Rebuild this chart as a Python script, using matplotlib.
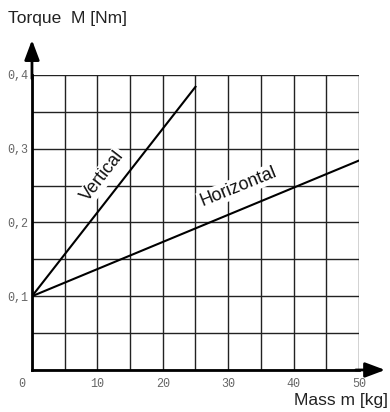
import numpy as np
import matplotlib.pyplot as plt
from matplotlib.transforms import ScaledTranslation

# Torque vs. mass for the two mounting orientations
mass_vertical = [0, 25]
torque_vertical = [0.1, 0.384]
mass_horizontal = [0, 50]
torque_horizontal = [0.1, 0.284]

x_ticks = np.arange(0, 51, 5)
x_labels = ['0', '', '10', '', '20', '', '30', '', '40', '', '50']
y_ticks = np.arange(0, 0.41, 0.05)
y_labels = ['', '', '0,1', '', '0,2', '', '0,3', '', '0,4']

fig = plt.figure(figsize=(3.9, 4.12), dpi=100)
ax = fig.add_axes([0.082, 0.102, 0.8385, 0.716])

# Lines
ax.plot(mass_vertical, torque_vertical, color='black', lw=1.5)
ax.plot(mass_horizontal, torque_horizontal, color='black', lw=1.5)

ax.set_xlim(0, 50)
ax.set_ylim(0, 0.4)
ax.set_xticks(x_ticks)
ax.set_xticklabels(x_labels)
ax.set_yticks(y_ticks)
ax.set_yticklabels(y_labels)
ax.tick_params(length=0, labelsize=8.5, labelcolor='#666666')
ax.tick_params(axis='x', pad=6)
ax.tick_params(axis='y', pad=3)
for lbl in ax.get_xticklabels() + ax.get_yticklabels():
    lbl.set_family('Liberation Mono')
# origin label sits a little left of the axis
lbl0 = ax.get_xticklabels()[0]
lbl0.set_transform(lbl0.get_transform() + ScaledTranslation(-0.1, 0, fig.dpi_scale_trans))

ax.grid(True, color='#222222', lw=1)
ax.set_axisbelow(True)

for s in ['top', 'right']:
    ax.spines[s].set_visible(False)
for s in ['left', 'bottom']:
    ax.spines[s].set_linewidth(2)

# Axis arrows
ax.annotate('', xy=(0, 0.4475), xytext=(0, 0.395), annotation_clip=False,
            arrowprops=dict(arrowstyle='-|>,head_length=1.2,head_width=0.45', color='black', lw=2,
                            shrinkA=0, shrinkB=0))
ax.annotate('', xy=(54, 0), xytext=(49.5, 0), annotation_clip=False,
            arrowprops=dict(arrowstyle='-|>,head_length=1.2,head_width=0.45', color='black', lw=2,
                            shrinkA=0, shrinkB=0))

# Line labels
box = dict(facecolor='white', edgecolor='none', pad=1)
ax.text(10.8, 0.263, 'Vertical', rotation=52, ha='center', va='center',
        fontsize=13, family='Liberation Sans', color='#111111', bbox=box)
ax.text(31.5, 0.248, 'Horizontal', rotation=22, ha='center', va='center',
        fontsize=13, family='Liberation Sans', color='#111111', bbox=box)

# Axis titles
fig.text(8 / 390, 1 - 18 / 412, 'Torque  M [Nm]', ha='left', va='center',
         fontsize=12.5, family='Liberation Sans', color='#222222')
fig.text(388 / 390, 1 - 401 / 412, 'Mass m [kg]', ha='right', va='center',
         fontsize=12.5, family='Liberation Sans', color='#222222')

fig.savefig('out.png', dpi=100)
